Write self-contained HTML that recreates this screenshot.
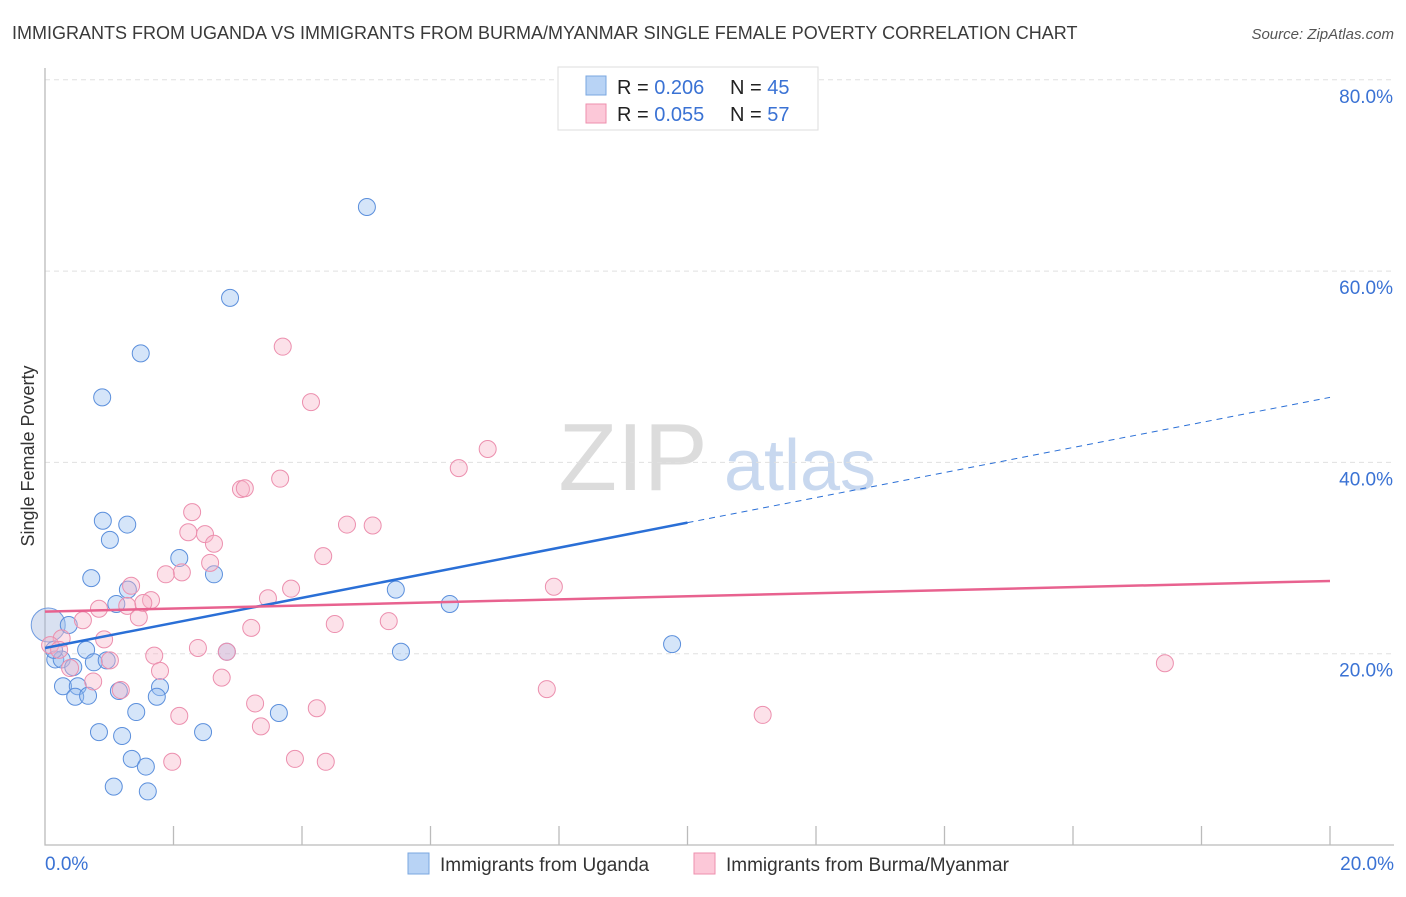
<!DOCTYPE html>
<html><head><meta charset="utf-8"><style>
body{margin:0;background:#fff;font-family:"Liberation Sans",sans-serif;}
svg text{font-family:"Liberation Sans",sans-serif;}
</style></head><body>
<svg id="chart" width="1406" height="892" xmlns="http://www.w3.org/2000/svg">
<text x="12" y="39" font-size="18" fill="#3a3a3a">IMMIGRANTS FROM UGANDA VS IMMIGRANTS FROM BURMA/MYANMAR SINGLE FEMALE POVERTY CORRELATION CHART</text>
<text x="1394" y="39" font-size="15" fill="#555" font-style="italic" text-anchor="end">Source: ZipAtlas.com</text>
<g>
<text x="633" y="490" font-size="96" fill="#dcdcdc" font-family="Liberation Serif" text-anchor="middle">ZIP</text>
<text x="800" y="490" font-size="72" fill="#c8d8ef" text-anchor="middle">atlas</text>
</g>
<g id="grid"></g><g id="axes"></g><g id="marks"></g>
<text transform="translate(34,456) rotate(-90)" font-size="18" fill="#333" text-anchor="middle">Single Female Poverty</text>
<g>
<rect x="558" y="67" width="260" height="63" fill="#fff" stroke="#ddd"/>
<rect x="586" y="76" width="20" height="19" fill="#b8d3f5" stroke="#7aa7e0"/>
<rect x="586" y="104" width="20" height="19" fill="#fcc8d8" stroke="#ee8fae"/>
<text x="617" y="94" font-size="20" fill="#222">R = <tspan fill="#3a72d4">0.206</tspan></text>
<text x="730" y="94" font-size="20" fill="#222">N = <tspan fill="#3a72d4">45</tspan></text>
<text x="617" y="121" font-size="20" fill="#222">R = <tspan fill="#3a72d4">0.055</tspan></text>
<text x="730" y="121" font-size="20" fill="#222">N = <tspan fill="#3a72d4">57</tspan></text>
</g>
<g>
<rect x="408" y="853" width="21" height="21" fill="#b8d3f5" stroke="#7aa7e0"/>
<text x="440" y="871" font-size="19" fill="#333">Immigrants from Uganda</text>
<rect x="694" y="853" width="21" height="21" fill="#fcc8d8" stroke="#ee8fae"/>
<text x="726" y="871" font-size="19" fill="#333">Immigrants from Burma/Myanmar</text>
</g>
</svg>
<script>
const blueX=[5.01,2.88,1.49,0.89,0.90,1.28,1.01,2.09,0.72,2.63,1.29,1.11,5.46,6.30,9.76,5.54,2.83,0.37,0.64,0.16,0.26,0.76,0.96,0.44,0.28,0.51,0.47,0.67,1.15,1.79,1.74,1.42,3.64,0.84,1.20,2.46,1.35,1.57,1.07,1.60,0.14];
const blueY=[66.7,57.2,51.4,46.8,33.9,33.5,31.9,30.0,27.9,28.3,26.7,25.2,26.7,25.2,21.0,20.2,20.2,23.0,20.4,19.4,19.4,19.1,19.3,18.6,16.6,16.6,15.5,15.6,16.1,16.5,15.5,13.9,13.8,11.8,11.4,11.8,9.0,8.2,6.1,5.6,20.4];
const pinkX=[3.70,4.14,6.89,6.44,3.66,3.05,3.11,2.29,4.70,5.10,2.23,2.49,2.63,4.33,2.57,2.13,1.88,1.34,7.92,3.83,3.47,1.65,1.53,1.28,0.84,1.46,0.59,5.35,4.51,3.21,0.92,0.26,0.08,2.38,0.22,2.83,1.70,1.01,0.39,1.79,17.43,0.75,2.75,1.18,7.81,3.27,4.23,2.09,11.17,3.36,1.98,3.89,4.37];
const pinkY=[52.1,46.3,41.4,39.4,38.3,37.2,37.3,34.8,33.5,33.4,32.7,32.5,31.5,30.2,29.5,28.5,28.3,27.1,27.0,26.8,25.8,25.6,25.3,25.0,24.7,23.8,23.5,23.4,23.1,22.7,21.5,21.6,20.9,20.6,20.4,20.2,19.8,19.3,18.5,18.2,19.0,17.1,17.5,16.2,16.3,14.8,14.3,13.5,13.6,12.4,8.7,9.0,8.7];
const blueTrend=[20.6,46.8];
const pinkTrend=[24.4,27.6];
const yTicks=[20,40,60,80];
const yTickLabels=["20.0%","40.0%","60.0%","80.0%"];
const xTicks=[0,2,4,6,8,10,12,14,16,18,20];
const NS="http://www.w3.org/2000/svg";
const sx=v=>45+v*64.25, sy=v=>845-v*9.565;
function mk(p,t,a){const e=document.createElementNS(NS,t);for(const k in a)e.setAttribute(k,a[k]);p.appendChild(e);return e;}
const grid=document.getElementById('grid'),axes=document.getElementById('axes'),marks=document.getElementById('marks');
yTicks.forEach((v,i)=>{
 const l=mk(grid,'line',{x1:45,x2:1394,y1:sy(v),y2:sy(v),stroke:'#e0e0e0','stroke-dasharray':'5,4'});
 
 
 const t=mk(axes,'text',{x:1393,y:sy(v)+23,'font-size':19,fill:'#3a72d4','text-anchor':'end'});
 t.textContent=yTickLabels[i];
 
 
});
const ax=mk(axes,'path',{d:'M45,68V845H1394',fill:'none',stroke:'#bbb','stroke-width':1.3});


xTicks.forEach(v=>{if(v===0)return;
 const l=mk(axes,'line',{x1:sx(v),x2:sx(v),y1:826,y2:845,stroke:'#bbb','stroke-width':1.3});
 
 
});
const xl0=mk(axes,'text',{x:45,y:870,'font-size':19,fill:'#3a72d4'});xl0.textContent='0.0%';


const xl1=mk(axes,'text',{x:1394,y:870,'font-size':19,fill:'#3a72d4','text-anchor':'end'});xl1.textContent='20.0%';


// big point at origin
const big=mk(marks,'circle',{cx:sx(0.05),cy:sy(23),r:17,fill:'rgba(160,180,220,0.4)',stroke:'#6f9be0'});


blueX.forEach((x,i)=>{const c=mk(marks,'circle',{cx:sx(x),cy:sy(blueY[i]),r:8.5,fill:'rgba(150,190,240,0.4)',stroke:'#5b8fdc','stroke-width':1});
 
 });
pinkX.forEach((x,i)=>{const c=mk(marks,'circle',{cx:sx(x),cy:sy(pinkY[i]),r:8.5,fill:'rgba(248,180,200,0.4)',stroke:'#ec8fae','stroke-width':1});
 
 });
const by=x=>blueTrend[0]+(blueTrend[1]-blueTrend[0])*x/20;
const b1=mk(marks,'line',{x1:sx(0),y1:sy(by(0)),x2:sx(10),y2:sy(by(10)),stroke:'#2a6fd6','stroke-width':2.5});


const b2=mk(marks,'line',{x1:sx(10),y1:sy(by(10)),x2:sx(20),y2:sy(by(20)),stroke:'#2a6fd6','stroke-width':1,'stroke-dasharray':'6,5'});


const p1=mk(marks,'line',{x1:sx(0),y1:sy(pinkTrend[0]),x2:sx(20),y2:sy(pinkTrend[1]),stroke:'#e8628f','stroke-width':2.5});


</script>
</body></html>
